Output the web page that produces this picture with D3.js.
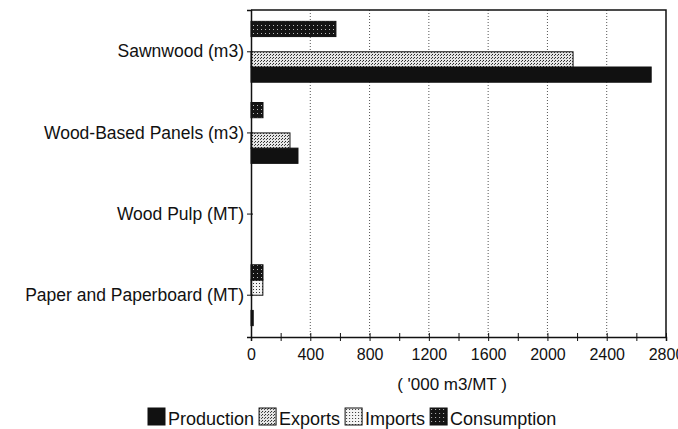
<!DOCTYPE html>
<html>
<head>
<meta charset="utf-8">
<script src="https://cdn.jsdelivr.net/npm/d3@7"></script>
<style>
  body { margin: 0; background: #fff; }
  text { font-family: "Liberation Sans", Arial, sans-serif; fill: #111; }
</style>
</head>
<body>
<div id="chart"></div>
<script>
// Categories and series (values in '000 m3 / MT)
var categories = ["Sawnwood (m3)", "Wood-Based Panels (m3)", "Wood Pulp (MT)", "Paper and Paperboard (MT)"];
var seriesNames = ["Production", "Exports", "Imports", "Consumption"];
var production = [2700, 317, 0, 15];
var exportsVals = [2173, 263, 0, 0];
var imports = [0, 0, 0, 80];
var consumption = [573, 81, 0, 81];
var xTicks = [0, 200, 400, 600, 800, 1000, 1200, 1400, 1600, 1800, 2000, 2200, 2400, 2600, 2800];

var seriesValues = [production, exportsVals, imports, consumption];

var width = 678, height = 429;
var svg = d3.select("#chart").append("svg")
    .attr("width", width)
    .attr("height", height);

// Patterns to imitate the printed fills
var defs = svg.append("defs");

var pExp = defs.append("pattern").attr("id", "pat-exports")
    .attr("width", 3).attr("height", 3).attr("patternUnits", "userSpaceOnUse");
pExp.append("rect").attr("width", 3).attr("height", 3).attr("fill", "#e6e6e6");
pExp.append("rect").attr("x", 0).attr("y", 0).attr("width", 1).attr("height", 1).attr("fill", "#222");
pExp.append("rect").attr("x", 2).attr("y", 1).attr("width", 1).attr("height", 1).attr("fill", "#444");

var pImp = defs.append("pattern").attr("id", "pat-imports")
    .attr("width", 3).attr("height", 3).attr("patternUnits", "userSpaceOnUse");
pImp.append("rect").attr("width", 3).attr("height", 3).attr("fill", "#f4f4f4");
pImp.append("rect").attr("x", 1).attr("y", 1).attr("width", 1).attr("height", 1).attr("fill", "#333");

var pCon = defs.append("pattern").attr("id", "pat-consumption")
    .attr("width", 4).attr("height", 4).attr("patternUnits", "userSpaceOnUse");
pCon.append("rect").attr("width", 4).attr("height", 4).attr("fill", "#141414");
pCon.append("rect").attr("x", 1).attr("y", 1).attr("width", 1).attr("height", 1).attr("fill", "#bbb");

var fills = {
    "Production": "#111",
    "Exports": "url(#pat-exports)",
    "Imports": "url(#pat-imports)",
    "Consumption": "url(#pat-consumption)"
};

// Plot area
var plotLeft = 251, plotRight = 666, plotTop = 10, plotBottom = 337;

var x = d3.scaleLinear().domain([0, 2800]).range([plotLeft, plotRight]);

var y = d3.scaleBand()
    .domain(categories)
    .range([plotTop, plotBottom])
    .paddingInner(0.25)
    .paddingOuter(0.14);

// Excel-style: first series at the bottom of each group
var ySub = d3.scaleBand()
    .domain(seriesNames.slice().reverse())
    .range([0, y.bandwidth()]);

// Gridlines
svg.append("g")
    .selectAll("line")
    .data(xTicks.filter(function(d) { return d % 400 === 0 && d > 0 && d < 2800; }))
    .enter().append("line")
    .attr("x1", function(d) { return x(d); })
    .attr("x2", function(d) { return x(d); })
    .attr("y1", plotTop)
    .attr("y2", plotBottom)
    .attr("stroke", "#555")
    .attr("stroke-width", 1)
    .attr("stroke-dasharray", "1,2");

// Frame (top and right)
svg.append("path")
    .attr("d", "M" + x(0) + "," + plotTop + "H" + x(2800) + "V" + plotBottom)
    .attr("fill", "none")
    .attr("stroke", "#111")
    .attr("stroke-width", 1.5);

// Bars
var rows = [];
categories.forEach(function(c, i) {
    seriesNames.forEach(function(s, j) {
        rows.push({ category: c, series: s, value: seriesValues[j][i] });
    });
});

svg.append("g")
    .selectAll("rect")
    .data(rows.filter(function(d) { return d.value > 0; }))
    .enter().append("rect")
    .attr("x", x(0))
    .attr("y", function(d) { return y(d.category) + ySub(d.series); })
    .attr("width", function(d) { return x(d.value) - x(0); })
    .attr("height", ySub.bandwidth())
    .attr("fill", function(d) { return fills[d.series]; })
    .attr("stroke", "#111")
    .attr("stroke-width", 1);

// X axis
var xAxis = svg.append("g")
    .attr("transform", "translate(0," + plotBottom + ")")
    .call(d3.axisBottom(x)
        .tickValues(xTicks)
        .tickSize(4)
        .tickPadding(8)
        .tickFormat(function(d) { return d % 400 === 0 ? d : ""; }));
xAxis.select(".domain").attr("stroke", "#111").attr("stroke-width", 1.5);
xAxis.selectAll(".tick line").attr("y1", -4).attr("stroke", "#111");
xAxis.selectAll(".tick text")
    .style("font-size", "16px")
    .attr("fill", "#111");

// Y axis
var yAxis = svg.append("g")
    .attr("transform", "translate(" + plotLeft + ",0)")
    .call(d3.axisLeft(y).tickSize(4).tickPadding(3));
yAxis.select(".domain").attr("stroke", "#111").attr("stroke-width", 1.5);
yAxis.selectAll(".tick line").attr("x1", 2).attr("stroke", "#111");
yAxis.selectAll(".tick text")
    .style("font-size", "17.5px")
    .attr("fill", "#111");

// Axis title
svg.append("text")
    .attr("x", 452)
    .attr("y", 390)
    .attr("text-anchor", "middle")
    .style("font-size", "17px")
    .text("( '000 m3/MT )");

// Legend
var legend = svg.append("g").attr("transform", "translate(148,408)");
var lx = 0;
seriesNames.forEach(function(s) {
    var g = legend.append("g").attr("transform", "translate(" + lx + ",0)");
    g.append("rect")
        .attr("width", 17)
        .attr("height", 17)
        .attr("fill", fills[s])
        .attr("stroke", "#111");
    var t = g.append("text")
        .attr("x", 20)
        .attr("y", 17)
        .style("font-size", "18px")
        .text(s);
    lx += 20 + t.node().getComputedTextLength() + 5;
});
</script>
</body>
</html>
